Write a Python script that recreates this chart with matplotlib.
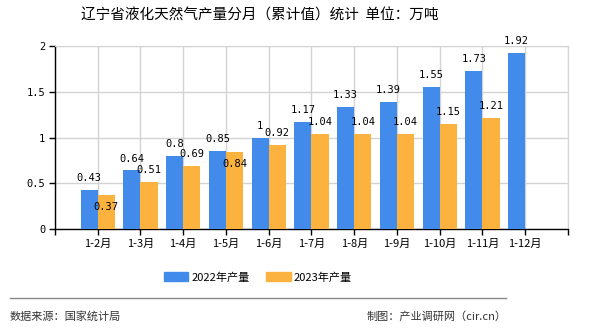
import numpy as np
import matplotlib
matplotlib.use("Agg")
import matplotlib.pyplot as plt
from matplotlib.patches import Patch

plt.rcParams['font.family'] = ['Noto Sans CJK SC', 'DejaVu Sans']

# monthly cumulative output, 10k tonnes
months = ['1-2月', '1-3月', '1-4月', '1-5月', '1-6月', '1-7月',
          '1-8月', '1-9月', '1-10月', '1-11月', '1-12月']
y2022 = [0.43, 0.64, 0.8, 0.85, 1, 1.17, 1.33, 1.39, 1.55, 1.73, 1.92]
y2023 = [0.37, 0.51, 0.69, 0.84, 0.92, 1.04, 1.04, 1.04, 1.15, 1.21]
yticks = [0, 0.5, 1, 1.5, 2]
ytick_labels = ['0', '0.5', '1', '1.5', '2']

blue = '#428BEB'
orange = '#FCB23E'
grid_c = '#d3d3d3'

fig = plt.figure(figsize=(5.9, 3.3), dpi=100)
ax = fig.add_axes([0.0932, 0.306, 0.8695, 0.5546])

x = np.arange(len(months))
w = 0.4
b1 = ax.bar(x[:len(y2022)] - w / 2, y2022, w, color=blue, zorder=3)
b2 = ax.bar(x[:len(y2023)] + w / 2, y2023, w, color=orange, zorder=3)

mono = 'DejaVu Sans Mono'
for xi, v in zip(x, y2022):
    ax.annotate(f'{v:g}', (xi - w / 2, v), xytext=(0, 5), textcoords='offset points',
                ha='center', va='bottom', fontsize=7.5, family=mono, zorder=5)
# a couple of labels sit inside the bar top to avoid the neighbour
inside = {0, 3}
for i, (xi, v) in enumerate(zip(x, y2023)):
    dy = -12 if i in inside else 5
    ax.annotate(f'{v:g}', (xi + w / 2, v), xytext=(0, dy), textcoords='offset points',
                ha='center', va='bottom', fontsize=7.5, family=mono, zorder=5)

ax.set_xlim(-1, len(months))
ax.set_ylim(0, 2)
ax.set_yticks(yticks)
ax.set_yticklabels(ytick_labels, family=mono, fontsize=7.5)
ax.set_xticks(np.arange(-1, len(months) + 1))
ax.set_xticklabels([''] + months + [''], fontsize=8)
ax.tick_params(axis='both', length=4, width=1, color='black', pad=3)

ax.grid(True, color=grid_c, linewidth=1, zorder=0)
ax.set_axisbelow(True)
for s in ['top', 'right']:
    ax.spines[s].set_color(grid_c)
for s in ['left', 'bottom']:
    ax.spines[s].set_color('black')
    ax.spines[s].set_linewidth(1)

fig.text(0.44, 0.952, '辽宁省液化天然气产量分月（累计值）统计  单位：万吨',
         ha='center', va='center', fontsize=10.5)

handles = [Patch(color=blue), Patch(color=orange)]
fig.legend(handles, ['2022年产量', '2023年产量'], loc='center',
           bbox_to_anchor=(0.437, 0.16), ncol=2, frameon=False, fontsize=8,
           handlelength=2.2, handleheight=0.9, columnspacing=1.5, handletextpad=0.3)

fig.add_artist(plt.Line2D([0.017, 0.858], [0.097, 0.097], color='#888888', linewidth=1))
fig.text(0.017, 0.042, '数据来源：国家统计局', ha='left', va='center', fontsize=8, color='#333333')
fig.text(0.858, 0.042, '制图：产业调研网（cir.cn）', ha='right', va='center', fontsize=8, color='#333333')

fig.savefig('out.png', dpi=100)
